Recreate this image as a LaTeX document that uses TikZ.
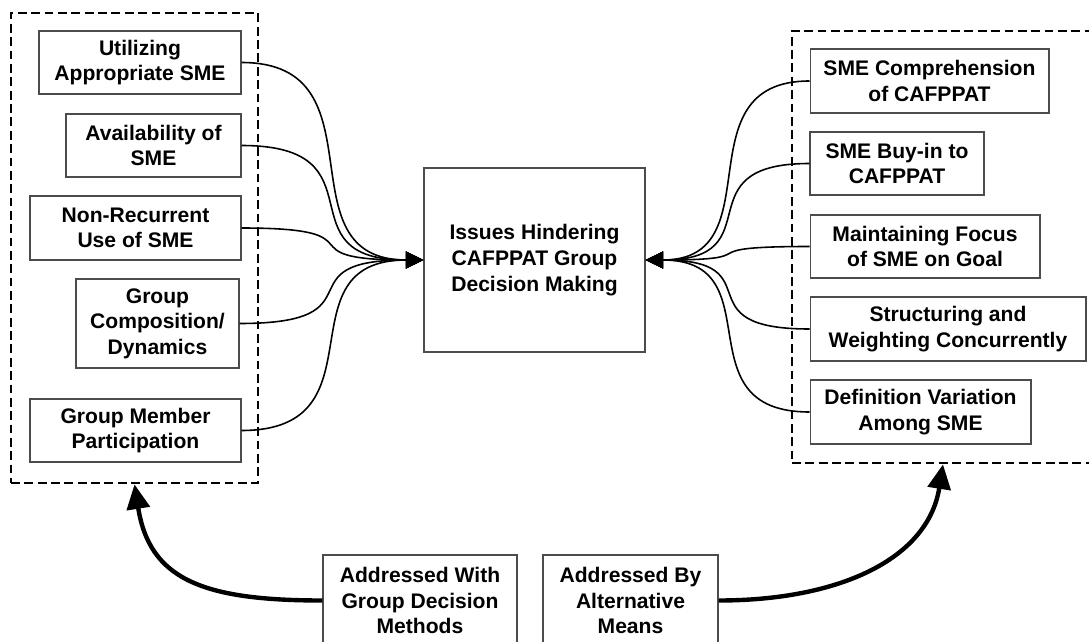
\documentclass[tikz,border=0pt]{standalone}
\usepackage{fontspec}
\setmainfont{Liberation Sans}
\usetikzlibrary{arrows.meta}

\begin{document}
\begin{tikzpicture}[
  x=0.02cm, y=-0.02cm,
  mybox/.style={draw=black!70, line width=0.6pt, align=center, inner sep=0pt,
    font=\bfseries\fontsize{12}{14.6}\selectfont},
  mygroup/.style={draw, line width=1.6pt, dash pattern=on 5pt off 2.6pt, inner sep=0pt},
  connl/.style={line width=0.9pt, -{Triangle[length=10pt,width=9.5pt]},
    to path={.. controls +(145,0) and +(-145,0) .. (\tikztotarget)}},
  connr/.style={line width=0.9pt, -{Triangle[length=10pt,width=9.5pt]},
    to path={.. controls +(-130,0) and +(130,0) .. (\tikztotarget)}},
  bigarrow/.style={line width=2.5pt, -{Triangle[length=14pt,width=13pt]}}
]
\useasboundingbox (0,0) rectangle (1089,642);

% dashed groups
\node[mygroup, minimum width=4.94cm, minimum height=9.4cm] (lg) at (134.5,248) {};
\node[mygroup, minimum width=6.04cm, minimum height=8.64cm] (rg) at (943,247) {};

% left side
\node[mybox, minimum width=4.04cm, minimum height=1.26cm] (ua) at (140,62.5) {Utilizing\\Appropriate SME};
\node[mybox, minimum width=3.5cm, minimum height=1.26cm] (av) at (153.5,145.5) {Availability of\\SME};
\node[mybox, minimum width=4.22cm, minimum height=1.28cm] (nr) at (135.5,228) {Non-Recurrent\\Use of SME};
\node[mybox, minimum width=3.26cm, minimum height=1.78cm] (gc) at (157.5,323.5) {Group\\Composition/\\Dynamics};
\node[mybox, minimum width=4.22cm, minimum height=1.26cm] (gm) at (135.5,430.5) {Group Member\\Participation};

% centre
\node[mybox, minimum width=4.42cm, minimum height=3.68cm] (ih) at (534.5,260) {Issues Hindering\\CAFPPAT Group\\Decision Making};

% right side
\node[mybox, minimum width=4.78cm, minimum height=1.28cm] (sc) at (929.5,81) {SME Comprehension\\of CAFPPAT};
\node[mybox, minimum width=3.48cm, minimum height=1.26cm] (sb) at (897,163.5) {SME Buy-in to\\CAFPPAT};
\node[mybox, minimum width=4.6cm, minimum height=1.26cm] (mf) at (925,246.5) {Maintaining Focus\\of SME on Goal};
\node[mybox, minimum width=5.52cm, minimum height=1.28cm] (sw) at (948,329) {Structuring and\\Weighting Concurrently};
\node[mybox, minimum width=4.42cm, minimum height=1.28cm] (dv) at (920.5,412) {Definition Variation\\Among SME};

% bottom
\node[mybox, minimum width=3.88cm, minimum height=1.82cm] (gd) at (420,600.5) {Addressed With\\Group Decision\\Methods};
\node[mybox, minimum width=3.5cm, minimum height=1.82cm] (am) at (630.5,600.5) {Addressed By\\Alternative\\Means};

\path (ua.east) edge[connl] (ih.west)
      (av.east) edge[connl] (ih.west)
      (nr.east) edge[connl] (ih.west)
      (gc.east) edge[connl] (ih.west)
      (gm.east) edge[connl] (ih.west);

\path (sc.west) edge[connr] (ih.east)
      (sb.west) edge[connr] (ih.east)
      (mf.west) edge[connr] (ih.east)
      (sw.west) edge[connr] (ih.east)
      (dv.west) edge[connr] (ih.east);

\draw[bigarrow] (gd.west) .. controls +(-120,0) and +(15,95) .. (lg.south);
\draw[bigarrow] (am.east) .. controls +(120,0) and +(-15,95) .. (rg.south);

\end{tikzpicture}
\end{document}
